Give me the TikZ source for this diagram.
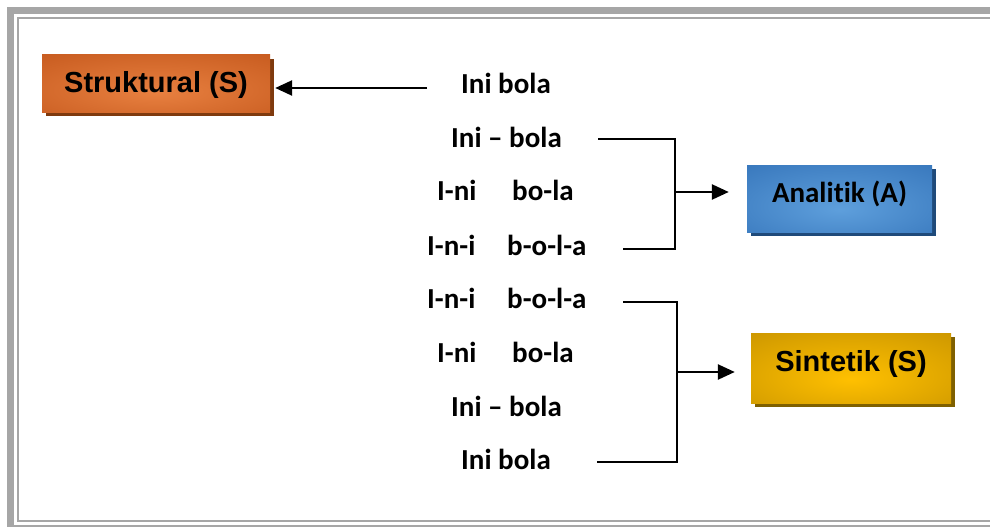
\documentclass[tikz,border=0pt]{standalone}
\usepackage{fontspec}
\setmainfont{Carlito}[Ligatures=NoCommon]
\newfontfamily\arialfont{Liberation Sans}
\usetikzlibrary{arrows.meta,shadows,calc}
\definecolor{frameC}{HTML}{A6A6A6}
\definecolor{orE}{HTML}{BF5217}
\definecolor{orC}{HTML}{E88040}
\definecolor{orS}{HTML}{7F3A0E}
\definecolor{blE}{HTML}{2E6DB4}
\definecolor{blC}{HTML}{5E9FDC}
\definecolor{blS}{HTML}{1F4A7A}
\definecolor{goE}{HTML}{BF8C00}
\definecolor{goC}{HTML}{FFC000}
\definecolor{goS}{HTML}{7F6000}
\pgfdeclareradialshading{orshade}{\pgfpoint{0bp}{-8bp}}{color(0bp)=(orC); color(50bp)=(orE); color(75bp)=(orE)}
\pgfdeclareradialshading{blshade}{\pgfpoint{0bp}{-8bp}}{color(0bp)=(blC); color(50bp)=(blE); color(75bp)=(blE)}
\pgfdeclareradialshading{goshade}{\pgfpoint{0bp}{-8bp}}{color(0bp)=(goC); color(50bp)=(goE); color(75bp)=(goE)}
\tikzset{
  word/.style={anchor=base west, inner sep=0pt, font=\fontsize{29}{29}\selectfont\bfseries},
  boxbase/.style={inner sep=0pt, text=black, text height=21pt},
  arialbox/.style={boxbase, font=\arialfont\fontsize{29}{29}\selectfont\bfseries},
  calbox/.style={boxbase, font=\fontsize{29}{29}\selectfont\bfseries},
  arr/.style={line width=2.5pt, -{Triangle[length=17pt,width=15pt]}},
  brk/.style={line width=1.8pt},
}
\begin{document}
\begin{tikzpicture}[x=1pt,y=-1pt]
\useasboundingbox (0,0) rectangle (990,527);
\fill[white] (0,0) rectangle (990,527);
% frame
\fill[frameC] (7,7) rectangle (14,527);
\fill[frameC] (7,7) rectangle (990,14);
\fill[frameC] (17,17) rectangle (19,522);
\fill[frameC] (17,17) rectangle (990,19);
\fill[frameC] (17,519.5) rectangle (990,522);
\fill[frameC] (14,525) rectangle (990,527);
% boxes
\node[arialbox, text depth=3.2pt, minimum width=228pt, minimum height=57pt, shading=orshade,
  drop shadow={shadow xshift=4pt, shadow yshift=-4pt, fill=orS, opacity=1}]
  (S) at (156,83.5) {Struktural (S)};
\node[calbox, text depth=13.3pt, minimum width=185pt, minimum height=67pt, shading=blshade,
  drop shadow={shadow xshift=4pt, shadow yshift=-4pt, fill=blS, opacity=1}]
  (A) at (839.5,198.5) {Analit\kern0pt ik (A)};
\node[arialbox, text depth=14.2pt, minimum width=200pt, minimum height=70pt, shading=goshade,
  drop shadow={shadow xshift=4pt, shadow yshift=-4pt, fill=goS, opacity=1}]
  (Y) at (851,368) {Sintetik (S)};
% words
\node[word] (w1) at (461,93) {Ini bola};
\node[word] (w2) at (451,147) {Ini – bola};
\node[word] (w3) at (437,200) {\makebox[75pt][l]{I-ni}bo-la};
\node[word] (w4) at (427,255) {\makebox[80pt][l]{I-n-i}b-o-l-a};
\node[word] (w5) at (427,308) {\makebox[80pt][l]{I-n-i}b-o-l-a};
\node[word] (w6) at (437,362) {\makebox[75pt][l]{I-ni}bo-la};
\node[word] (w7) at (451,416) {Ini – bola};
\node[word] (w8) at (461,469) {Ini bola};
% connectors
\coordinate (a0) at (427,88);
\draw[arr, shorten >=5pt] (a0) -- (a0 -| S.east);
\coordinate (p1) at (598,139);
\coordinate (q1) at (675,139);
\coordinate (q2) at (675,249);
\coordinate (p2) at (623,249);
\draw[brk] (p1) -- (q1) -- (q2) -- (p2);
\coordinate (m1) at (675,192);
\draw[arr, shorten >=18pt] (m1) -- (m1 -| A.west);
\coordinate (p3) at (623,302);
\coordinate (q3) at (677,302);
\coordinate (q4) at (677,462);
\coordinate (p4) at (597,462);
\draw[brk] (p3) -- (q3) -- (q4) -- (p4);
\coordinate (m2) at (677,372);
\draw[arr, shorten >=16pt] (m2) -- (m2 -| Y.west);
\end{tikzpicture}
\end{document}
